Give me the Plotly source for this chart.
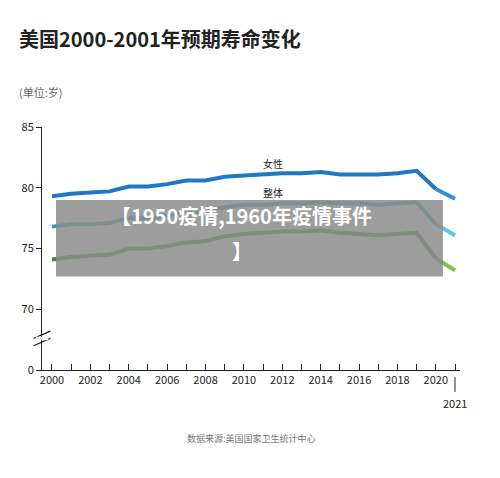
import plotly.graph_objects as go

years = list(range(2000, 2022))
female = [79.3, 79.5, 79.6, 79.7, 80.1, 80.1, 80.3, 80.6, 80.6, 80.9, 81.0,
          81.1, 81.2, 81.2, 81.3, 81.1, 81.1, 81.1, 81.2, 81.4, 79.9, 79.1]
overall = [76.8, 77.0, 77.0, 77.1, 77.5, 77.5, 77.7, 78.0, 78.0, 78.4, 78.6,
           78.6, 78.7, 78.7, 78.8, 78.7, 78.7, 78.6, 78.7, 78.8, 77.0, 76.1]
male = [74.1, 74.3, 74.4, 74.5, 75.0, 75.0, 75.2, 75.5, 75.6, 76.0, 76.2,
        76.3, 76.4, 76.4, 76.5, 76.3, 76.2, 76.1, 76.2, 76.3, 74.2, 73.2]
y_ticks = [65, 70, 75, 80, 85]
y_labels = ["0", "70", "75", "80", "85"]
x_ticks = list(range(2000, 2021, 2))

font = "Noto Sans CJK SC"
fig = go.Figure()

series = [(female, "#1f78c1", "#2f8fd8"), (overall, "#3f98b0", "#5cc4e0"),
          (male, "#3f8a2a", "#7cc142")]
for vals, col, light in series:
    fig.add_trace(go.Scatter(x=years[:21], y=vals[:21], mode="lines",
                             line=dict(color=col, width=4), hoverinfo="skip"))
    fig.add_trace(go.Scatter(x=years[20:], y=vals[20:], mode="lines",
                             line=dict(color=light, width=4), hoverinfo="skip"))

fig.add_annotation(x=2011.5, y=82.0, text="女性", showarrow=False,
                   font=dict(family=font, size=10, color="#222"))
fig.add_annotation(x=2011.5, y=79.6, text="整体", showarrow=False,
                   font=dict(family=font, size=10, color="#222"))

# axis break marks
for yy in (67.3, 67.9):
    fig.add_shape(type="line", xref="paper", x0=-0.02, x1=0.02, y0=yy - 0.3, y1=yy + 0.3,
                  line=dict(color="#222", width=1.2))
fig.add_shape(type="rect", xref="paper", x0=-0.015, x1=0.015, y0=67.45, y1=67.75,
              fillcolor="white", line=dict(width=0), layer="above")

# 2021 label under axis
fig.add_shape(type="line", x0=2021, x1=2021, yref="paper", y0=-0.03, y1=-0.09,
              line=dict(color="#222", width=1))
fig.add_annotation(x=2021, y=-0.095, yref="paper", text="2021", showarrow=False,
                   yanchor="top", font=dict(family=font, size=11, color="#222"))

# grey overlay banner
fig.add_shape(type="rect", x0=2000.21, x1=2020.37, y0=72.7, y1=79.0,
              fillcolor="rgba(140,140,140,0.85)", line=dict(width=0), layer="above")
fig.add_annotation(x=2009.9, y=77.7, text="<b>【1950疫情,1960年疫情事件</b>",
                   showarrow=False, font=dict(family=font, size=20, color="white"))
fig.add_annotation(x=2009.9, y=74.8, text="<b>】</b>", showarrow=False,
                   font=dict(family=font, size=20, color="white"))

fig.add_annotation(xref="paper", yref="paper", x=-0.06, y=1.365, xanchor="left", yanchor="middle",
                   text="<b>美国2000-2001年预期寿命变化</b>", showarrow=False,
                   font=dict(family=font, size=20, color="#222"))
fig.add_annotation(xref="paper", yref="paper", x=-0.06, y=1.145, xanchor="left", yanchor="middle",
                   text="(单位:岁)", showarrow=False, font=dict(family=font, size=11, color="#666"))
fig.add_annotation(xref="paper", yref="paper", x=0.5, y=-0.28, xanchor="center", yanchor="middle",
                   text="数据来源:美国国家卫生统计中心", showarrow=False,
                   font=dict(family=font, size=9, color="#777"))

fig.update_layout(
    width=500, height=478,
    margin=dict(l=34, r=48, t=119, b=116),
    paper_bgcolor="white", plot_bgcolor="white",
    showlegend=False,
    font=dict(family=font, color="#222"),
    xaxis=dict(range=[1999.48, 2021.26], tickvals=x_ticks, ticks="inside",
               ticklen=6, tickcolor="#222", showline=True, linecolor="#222",
               showgrid=False, zeroline=False, tickfont=dict(size=11),
               minor=dict(dtick=1, tick0=2000, ticks="inside", ticklen=6, tickcolor="#222")),
    yaxis=dict(range=[65, 85], tickvals=y_ticks, ticktext=y_labels, ticks="outside",
               ticklen=5, tickcolor="#222", showline=True, linecolor="#222",
               showgrid=False, zeroline=False, tickfont=dict(size=11)),
)

fig.write_html("out.html")
